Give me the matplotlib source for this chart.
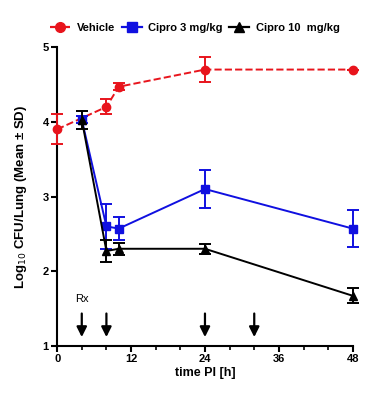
import matplotlib
matplotlib.use("Agg")
import matplotlib.pyplot as plt
from matplotlib.lines import Line2D

plt.rcParams['font.family'] = ['Liberation Sans', 'DejaVu Sans']

veh_t = [0, 8, 10, 24, 48]
veh_y = [3.9, 4.2, 4.47, 4.7, 4.7]
veh_sd = [0.2, 0.1, 0.05, 0.17, 0.0]

c3_t = [4, 8, 10, 24, 48]
c3_y = [4.03, 2.6, 2.57, 3.1, 2.57]
c3_sd = [0.05, 0.3, 0.15, 0.25, 0.25]

c10_t = [4, 8, 10, 24, 48]
c10_y = [4.03, 2.27, 2.3, 2.3, 1.67]
c10_sd = [0.12, 0.15, 0.08, 0.07, 0.1]

dose_t = [4, 8, 24, 32]

fig = plt.figure(figsize=(3.86, 3.93), dpi=100)
ax = fig.add_axes([0.148, 0.12, 0.766, 0.76])

series = [
    (veh_t, veh_y, veh_sd, '#e8141c', 'o', '--', 'Vehicle'),
    (c3_t, c3_y, c3_sd, '#1010e0', 's', '-', 'Cipro 3 mg/kg'),
    (c10_t, c10_y, c10_sd, 'black', '^', '-', 'Cipro 10  mg/kg'),
]
handles = []
for i, (t, y, sd, c, m, ls, lab) in enumerate(series):
    eb = ax.errorbar(t, y, yerr=sd, color=c, marker=m, ms=6, ls=ls, lw=1.4,
                     capsize=4, elinewidth=1.4, capthick=1.4, zorder=3 + i)
    arts = [eb.lines[0]] + list(eb.lines[1]) + list(eb.lines[2])
    for art in arts:
        art.set_clip_on(False)
    handles.append(Line2D([], [], color=c, marker=m, ms=7, ls=ls, lw=1.6, label=lab))

for t in dose_t:
    ax.annotate('', xy=(t, 1.08), xytext=(t, 1.47),
                arrowprops=dict(arrowstyle='-|>', color='black', lw=1.6, mutation_scale=15))
ax.text(dose_t[0], 1.56, 'Rx', ha='center', va='bottom', fontsize=8)

ax.set_xlim(0, 48)
ax.set_ylim(1, 5)
ax.set_xticks([0, 12, 24, 36, 48])
ax.set_xticks(range(0, 49, 4), minor=True)
ax.set_yticks([1, 2, 3, 4, 5])
ax.spines['top'].set_visible(False)
ax.spines['right'].set_visible(False)
ax.spines['left'].set_linewidth(1.5)
ax.spines['bottom'].set_linewidth(1.5)
ax.tick_params(axis='both', which='major', direction='out', length=4, width=1.5, labelsize=8, pad=2)
ax.tick_params(axis='x', which='minor', direction='out', length=3, width=1.2)
for lab in ax.get_xticklabels() + ax.get_yticklabels():
    lab.set_fontweight('bold')
ax.set_xlabel('time PI [h]', fontsize=9, fontweight='bold', labelpad=2)
ax.set_ylabel('Log$_{10}$ CFU/Lung (Mean ± SD)', fontsize=9.5, fontweight='bold', labelpad=10)

fig.legend(handles=handles, loc='center', bbox_to_anchor=(0.505, 0.928), ncol=3,
           frameon=False, prop={'size': 8, 'weight': 'bold'}, handlelength=1.8,
           columnspacing=0.6, handletextpad=0.6)

fig.savefig('out.png', dpi=100)
